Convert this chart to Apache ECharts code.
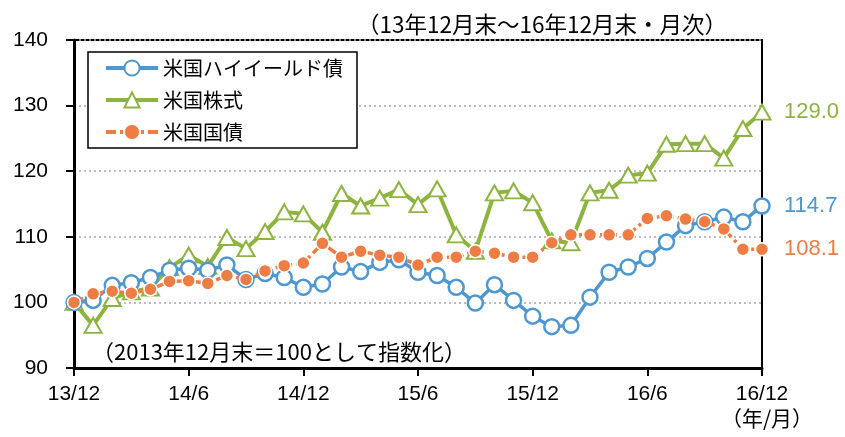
<!DOCTYPE html>
<html><head><meta charset="utf-8">
<script src="https://cdn.jsdelivr.net/npm/echarts@6/dist/echarts.min.js"></script>
<style>html,body{margin:0;padding:0;background:#fff}#c{width:845px;height:437px}</style>
</head><body><div id="c"></div>
<script>
const categories = ['13/12','14/1','14/2','14/3','14/4','14/5','14/6','14/7','14/8','14/9','14/10','14/11',
  '14/12','15/1','15/2','15/3','15/4','15/5','15/6','15/7','15/8','15/9','15/10','15/11',
  '15/12','16/1','16/2','16/3','16/4','16/5','16/6','16/7','16/8','16/9','16/10','16/11','16/12'];
const seriesNames = ['米国ハイイールド債','米国株式','米国国債'];
const highYield = [100, 100.3, 102.6, 103.0, 103.8, 104.9, 105.2, 104.9, 105.7, 103.5, 104.4, 103.8,
  102.3, 102.8, 105.4, 104.7, 106.1, 106.5, 104.6, 104.1, 102.3, 99.9, 102.7, 100.3,
  97.9, 96.3, 96.5, 100.8, 104.6, 105.4, 106.7, 109.2, 111.7, 112.3, 113.0, 112.3, 114.7];
const stocks = [100, 96.5, 100.6, 101.6, 102.2, 105.3, 107.2, 105.5, 109.9, 108.2, 110.8, 113.8,
  113.5, 110.7, 116.6, 114.7, 115.9, 117.2, 114.9, 117.3, 110.3, 107.8, 116.7, 117.0,
  115.2, 109.4, 109.1, 116.7, 117.1, 119.4, 119.7, 124.1, 124.2, 124.2, 122.0, 126.5, 129.0];
const treasuries = [100, 101.3, 101.7, 101.4, 102.0, 103.2, 103.3, 102.9, 104.1, 103.5, 104.8, 105.6,
  106.0, 109.0, 106.9, 107.8, 107.2, 106.9, 105.7, 106.9, 106.9, 107.8, 107.5, 106.9,
  106.9, 109.1, 110.3, 110.3, 110.3, 110.3, 112.8, 113.2, 112.7, 112.3, 111.2, 108.1, 108.1];
const yMin = 90, yMax = 140, yStep = 10;
const titleText = '（13年12月末～16年12月末・月次）';
const noteText = '（2013年12月末＝100として指数化）';
const unitText = '（年/月）';

const BLUE = '#4E97D1', GREEN = '#8DB43F', ORANGE = '#EE7D45';
const NUMF = 'Liberation Sans, Arial, sans-serif';
const JPF = 'Noto Sans CJK JP, sans-serif';

const chart = echarts.init(document.getElementById('c'), null, {renderer: 'canvas'});
const endLabel = (color) => ({
  show: true, distance: 22, color: color, fontSize: 22, fontFamily: NUMF,
  formatter: p => Number(p.value).toFixed(1)
});
chart.setOption({
  animation: false,
  backgroundColor: '#fff',
  title: [
    {text: titleText, left: 352, top: 8, textStyle: {fontSize: 22.5, fontWeight: 'normal', color: '#000', fontFamily: JPF}},
    {text: noteText, left: 87, top: 336, textStyle: {fontSize: 22, fontWeight: 'normal', color: '#000', fontFamily: JPF}},
    {text: unitText, left: 762, textAlign: 'center', top: 403, textStyle: {fontSize: 21, fontWeight: 'normal', color: '#000', fontFamily: JPF}}
  ],
  grid: {left: 74, right: 83, top: 40, bottom: 69, show: true, borderColor: '#000', borderWidth: 2, backgroundColor: 'transparent'},
  legend: {
    orient: 'vertical', left: 88, top: 52,
    data: [
      {name: seriesNames[0], lineStyle: {width: 4, color: BLUE}, itemStyle: {color: '#fff', borderColor: BLUE, borderWidth: 2}},
      {name: seriesNames[1], lineStyle: {width: 4, color: GREEN}, itemStyle: {color: '#fff', borderColor: GREEN, borderWidth: 2}},
      {name: seriesNames[2], lineStyle: {width: 4, color: ORANGE, type: [10, 4, 3, 4]}, itemStyle: {color: ORANGE, borderColor: '#fff', borderWidth: 1}}
    ],
    backgroundColor: '#fff', borderColor: '#000', borderWidth: 1.5,
    padding: [6, 14, 6, 16], itemGap: 12, itemWidth: 52, itemHeight: 19,
    textStyle: {fontSize: 20, fontFamily: JPF, color: '#000'}
  },
  xAxis: {
    type: 'category', data: categories, boundaryGap: false,
    axisLine: {lineStyle: {color: '#000', width: 3}},
    axisTick: {show: true, interval: 5, length: 8, lineStyle: {color: '#000', width: 2}},
    axisLabel: {interval: 5, margin: 16, fontSize: 21, fontFamily: NUMF, color: '#000'},
    splitLine: {show: false}
  },
  yAxis: {
    type: 'value', min: yMin, max: yMax, interval: yStep,
    axisLine: {show: true, lineStyle: {color: '#000', width: 3}},
    axisTick: {show: true, length: 8, lineStyle: {color: '#000', width: 2}},
    axisLabel: {margin: 26, fontSize: 21, fontFamily: NUMF, color: '#000'},
    splitLine: {show: true, lineStyle: {color: '#A6A6A6', type: [2, 3], width: 1.5}}
  },
  series: [
    {
      name: seriesNames[1], type: 'line', data: stocks, z: 2,
      symbol: 'triangle', symbolSize: [17, 15], showAllSymbol: true,
      lineStyle: {color: GREEN, width: 4},
      itemStyle: {color: '#fff', borderColor: GREEN, borderWidth: 2},
      endLabel: endLabel(GREEN)
    },
    {
      name: seriesNames[0], type: 'line', data: highYield, z: 3,
      symbol: 'circle', symbolSize: 15, showAllSymbol: true,
      lineStyle: {color: BLUE, width: 3.5},
      itemStyle: {color: '#fff', borderColor: BLUE, borderWidth: 2.5},
      endLabel: endLabel(BLUE)
    },
    {
      name: seriesNames[2], type: 'line', data: treasuries, z: 4,
      symbol: 'circle', symbolSize: 13, showAllSymbol: true,
      lineStyle: {color: ORANGE, width: 3.5, type: [10, 4, 3, 4]},
      itemStyle: {color: ORANGE, borderColor: '#fff', borderWidth: 1.5},
      endLabel: endLabel(ORANGE)
    }
  ]
});
</script>
</body></html>
